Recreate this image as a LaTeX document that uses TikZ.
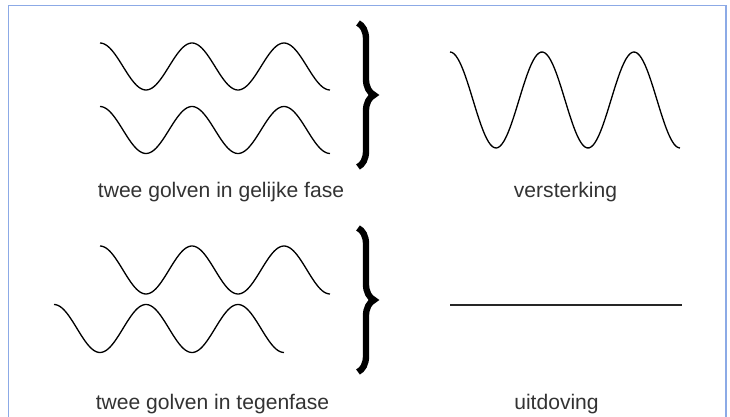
\documentclass[tikz,border=0pt]{standalone}
\usepackage{fontspec}
\setmainfont{Liberation Sans}
\usetikzlibrary{decorations.pathreplacing}
\definecolor{cFrame}{HTML}{8CAAE6}
\definecolor{cText}{HTML}{333333}

\begin{document}
\begin{tikzpicture}[
  wave/.style={black,line width=0.75pt},
  bracket/.style={decorate,decoration={brace,amplitude=0.32cm},line width=3.6pt},
  caption/.style={anchor=base,font=\fontsize{12}{14}\selectfont,text=cText,inner sep=0pt}]

\useasboundingbox (0,0) rectangle (14.6,8.34);
\draw[cFrame,line width=1.1pt] (0.17,-0.2) -- (0.17,8.23) -- (14.52,8.23) -- (14.52,-0.2);

%============================ TOP: waves in phase ============================
% two equal waves, same phase
\foreach \yc in {7.01,5.74}
  \draw[wave] plot[domain=2.0:6.6,samples=120] (\x,{\yc+0.47*cos(360*(\x-2.0)/1.84)});
\draw[bracket] (7.16,7.88) -- (7.16,5.0);
% sum: double amplitude
\draw[wave] plot[domain=9.0:13.6,samples=120] (\x,{6.34+0.96*cos(360*(\x-9.0)/1.84)});
\node[caption] (inphase) at (4.42,4.38) {twee golven in gelijke fase};
\node[caption] (gain) at (11.31,4.38) {versterking};

%============================ BOTTOM: waves out of phase ============================
\draw[wave] plot[domain=2.0:6.6,samples=120] (\x,{2.94+0.48*cos(360*(\x-2.0)/1.84)});
\draw[wave] plot[domain=1.08:5.68,samples=120] (\x,{1.77+0.48*cos(360*(\x-1.08)/1.84)});
\draw[bracket] (7.16,3.78) -- (7.16,0.9);
% sum: flat line
\draw[black!85,line width=0.9pt] (9.0,2.24) -- (13.64,2.24);
\node[caption] (antiphase) at (4.25,0.14) {twee golven in tegenfase};
\node[caption] (cancel) at (11.13,0.14) {uitdoving};

\end{tikzpicture}
\end{document}
